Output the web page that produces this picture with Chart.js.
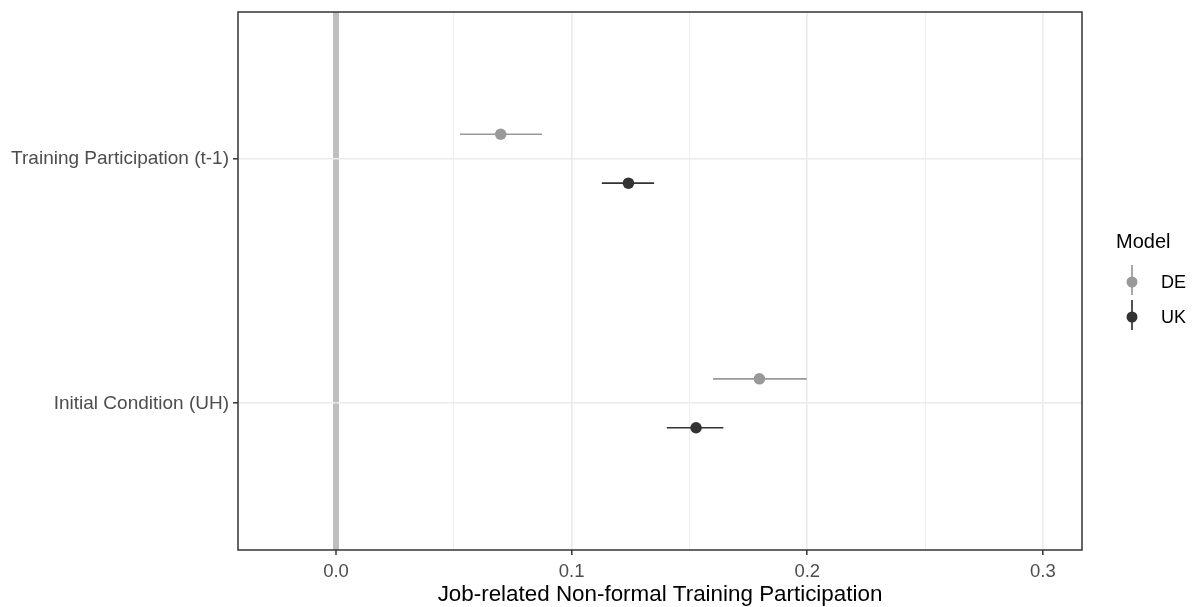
<!DOCTYPE html>
<html>
<head>
<meta charset="utf-8">
<script src="https://cdn.jsdelivr.net/npm/chart.js@4.4.1/dist/chart.umd.min.js"></script>
<style>
  html, body { margin: 0; padding: 0; background: #fff; }
  #wrap { width: 1196px; height: 607px; }
</style>
</head>
<body>
<div id="wrap"><canvas id="coefChart" width="1196" height="607"></canvas></div>
<script>
// terms, top to bottom
var categories = ['Training Participation (t-1)', 'Initial Condition (UH)'];
var modelNames = ['DE', 'UK'];
var modelColors = ['#999999', '#333333'];

// estimates with lower / upper interval bounds, one entry per term
var deEstimate = [0.0699, 0.1797];
var deLower = [0.0526, 0.1600];
var deUpper = [0.0874, 0.1998];
var ukEstimate = [0.1241, 0.1528];
var ukLower = [0.1128, 0.1404];
var ukUpper = [0.1350, 0.1644];

var xTicks = [0, 0.05, 0.1, 0.15, 0.2, 0.25, 0.3];
var dodge = 0.1;

function termY(i) { return categories.length - i; }

function buildPoints(est, lo, hi, offset) {
  return est.map(function (v, i) {
    return { x: v, y: termY(i) + offset, xMin: lo[i], xMax: hi[i] };
  });
}

function isMajor(v) { return Math.abs(v * 10 - Math.round(v * 10)) < 1e-6; }

var fontFamily = 'Liberation Sans, Arial, sans-serif';
var tickFont = { family: fontFamily, size: 19 };

var errorBars = {
  id: 'errorBars',
  beforeDatasetsDraw: function (chart) {
    var ctx = chart.ctx, xs = chart.scales.x, ys = chart.scales.y;
    ctx.save();
    chart.data.datasets.forEach(function (ds) {
      ctx.strokeStyle = ds.backgroundColor;
      ctx.lineWidth = 1.7;
      ds.data.forEach(function (p) {
        var y = ys.getPixelForValue(p.y);
        ctx.beginPath();
        ctx.moveTo(xs.getPixelForValue(p.xMin), y);
        ctx.lineTo(xs.getPixelForValue(p.xMax), y);
        ctx.stroke();
      });
    });
    ctx.restore();
  }
};

var panelBorder = {
  id: 'panelBorder',
  afterDatasetsDraw: function (chart) {
    var a = chart.chartArea, ctx = chart.ctx;
    ctx.save();
    ctx.strokeStyle = '#333333';
    ctx.lineWidth = 1.5;
    ctx.strokeRect(a.left, a.top, a.right - a.left, a.bottom - a.top);
    ctx.restore();
  }
};

// legend drawn like a pointrange key: vertical line with a dot
var modelLegend = {
  id: 'modelLegend',
  afterDraw: function (chart) {
    var ctx = chart.ctx;
    var keyX = 1132, titleY = 242, firstY = 282, step = 35;
    ctx.save();
    ctx.fillStyle = '#000';
    ctx.font = '20px ' + fontFamily;
    ctx.textBaseline = 'middle';
    ctx.textAlign = 'left';
    ctx.fillText('Model', 1116, titleY);
    chart.data.datasets.forEach(function (ds, i) {
      var cy = firstY + i * step;
      ctx.strokeStyle = ds.backgroundColor;
      ctx.lineWidth = 1.7;
      ctx.beginPath();
      ctx.moveTo(keyX, cy - 17);
      ctx.lineTo(keyX, cy + 13);
      ctx.stroke();
      ctx.fillStyle = ds.backgroundColor;
      ctx.beginPath();
      ctx.arc(keyX, cy, 5.5, 0, Math.PI * 2);
      ctx.fill();
      ctx.fillStyle = '#000';
      ctx.font = '18px ' + fontFamily;
      ctx.fillText(ds.label, 1161, cy + 1);
    });
    ctx.restore();
  }
};

new Chart(document.getElementById('coefChart'), {
  type: 'scatter',
  data: {
    datasets: [
      { label: modelNames[0], data: buildPoints(deEstimate, deLower, deUpper, dodge),
        backgroundColor: modelColors[0], pointRadius: 5.8, borderWidth: 0 },
      { label: modelNames[1], data: buildPoints(ukEstimate, ukLower, ukUpper, -dodge),
        backgroundColor: modelColors[1], pointRadius: 5.8, borderWidth: 0 }
    ]
  },
  options: {
    responsive: false,
    animation: false,
    layout: { padding: { top: 12, right: 114, left: 0, bottom: 0 } },
    plugins: { legend: { display: false }, tooltip: { enabled: false } },
    scales: {
      x: {
        type: 'linear',
        min: -0.0416,
        max: 0.3166,
        afterBuildTicks: function (s) { s.ticks = xTicks.map(function (v) { return { value: v }; }); },
        afterFit: function (s) { s.height = 57; s.paddingLeft = 0; s.paddingRight = 0; },
        border: { display: false },
        grid: {
          drawTicks: true,
          tickLength: 5,
          tickWidth: 1.5,
          tickColor: function (c) { return isMajor(c.tick.value) ? '#333333' : 'rgba(0,0,0,0)'; },
          color: function (c) { return Math.abs(c.tick.value) < 1e-9 ? '#bebebe' : '#ebebeb'; },
          lineWidth: function (c) {
            var v = c.tick.value;
            if (Math.abs(v) < 1e-9) return 6;
            return isMajor(v) ? 1.6 : 0.8;
          }
        },
        ticks: {
          autoSkip: false,
          maxRotation: 0,
          padding: 6,
          color: '#4d4d4d',
          font: { family: fontFamily, size: 18.5 },
          callback: function (v) { return isMajor(v) ? v.toFixed(1) : ''; }
        },
        title: {
          display: true,
          text: 'Job-related Non-formal Training Participation',
          color: '#000',
          font: { family: fontFamily, size: 22.4, lineHeight: 1.05 },
          padding: { top: 0, bottom: 0 }
        }
      },
      y: {
        type: 'linear',
        min: 0.4,
        max: 2.6,
        afterBuildTicks: function (s) {
          s.ticks = categories.map(function (c, i) { return { value: termY(i) }; });
        },
        afterFit: function (s) { s.width = 238; s.paddingTop = 0; s.paddingBottom = 0; },
        border: { display: false },
        grid: {
          drawTicks: true,
          tickLength: 5,
          tickWidth: 1.5,
          tickColor: '#333333',
          color: '#ebebeb',
          lineWidth: 1.6
        },
        ticks: {
          autoSkip: false,
          padding: 4,
          color: '#4d4d4d',
          font: tickFont,
          callback: function (v) { return categories[categories.length - v]; }
        }
      }
    }
  },
  plugins: [errorBars, panelBorder, modelLegend]
});
</script>
</body>
</html>
